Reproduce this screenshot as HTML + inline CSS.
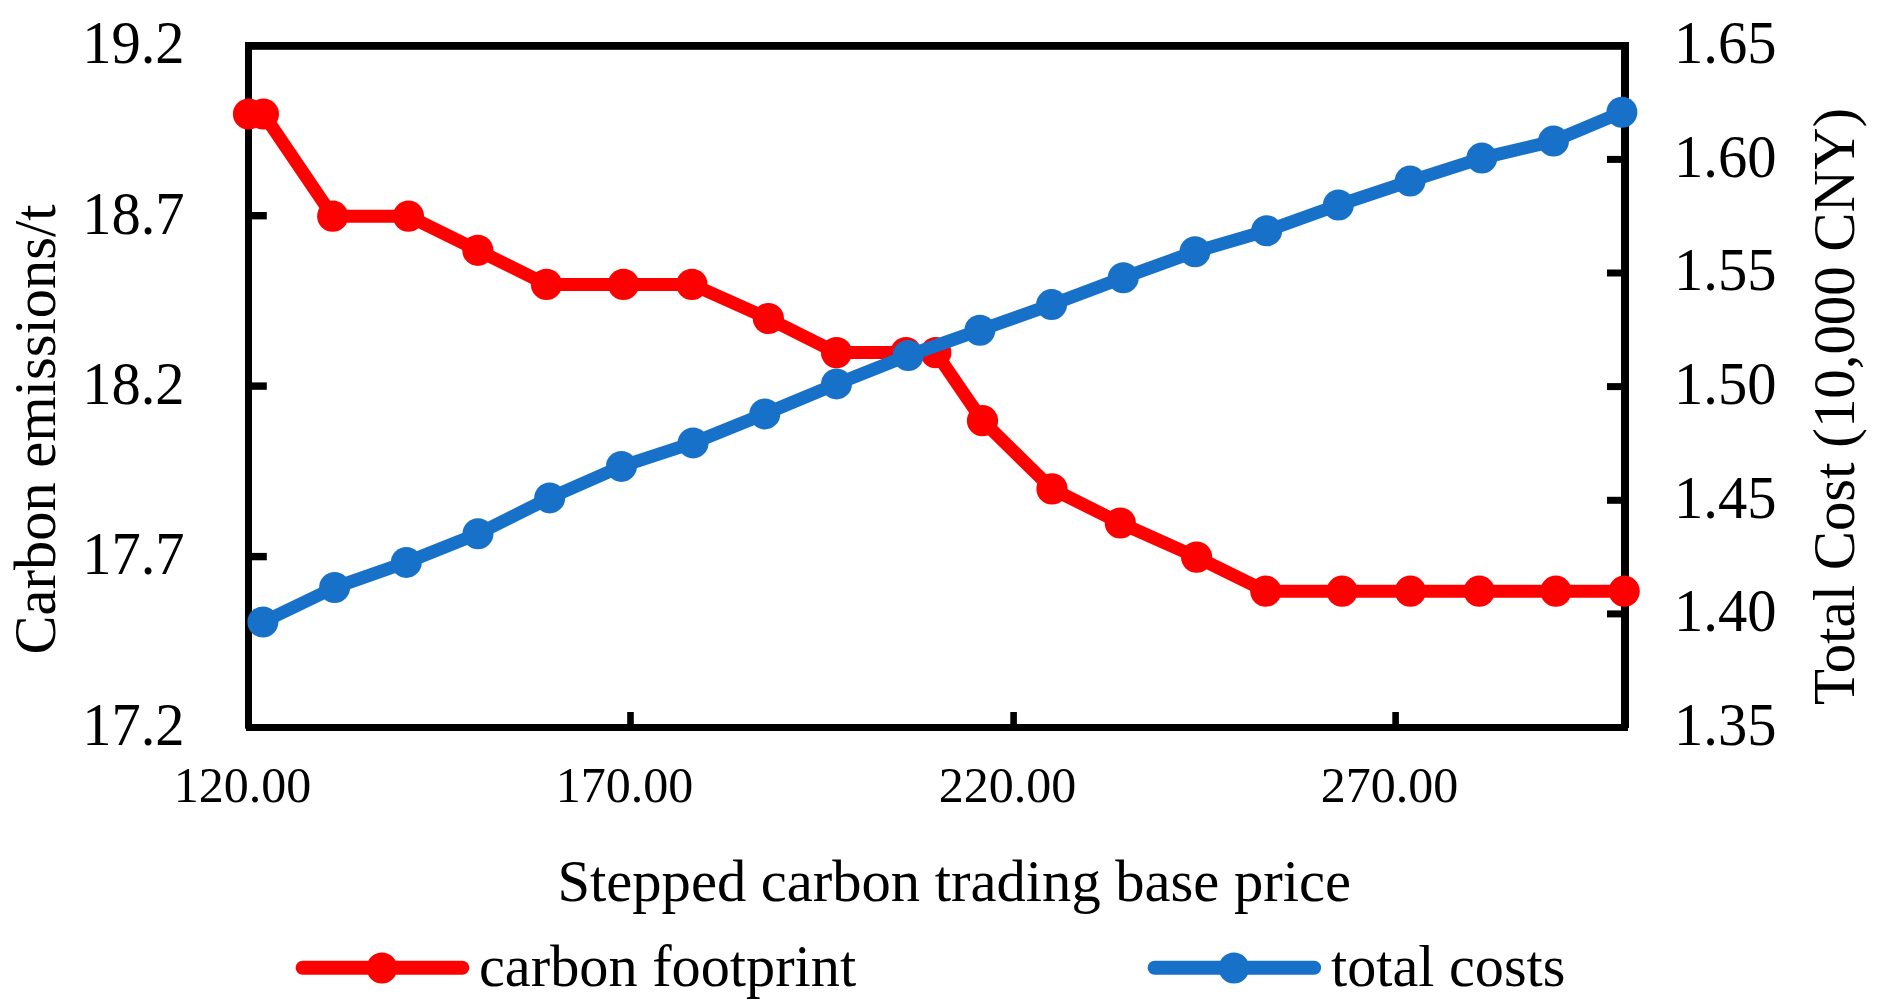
<!DOCTYPE html>
<html><head><meta charset="utf-8"><title>chart</title>
<style>
html,body{margin:0;padding:0;background:#fff;}
svg{display:block;}
text{font-family:"Liberation Serif","Times New Roman",serif;fill:#000;}
</style></head><body>
<svg width="1881" height="1004" viewBox="0 0 1881 1004">
<defs><filter id="soft" x="-5%" y="-5%" width="110%" height="110%"><feGaussianBlur stdDeviation="0.7"/></filter></defs>
<rect width="1881" height="1004" fill="#fff"/>

<g fill="#000">
<rect x="245" y="42" width="7" height="686.7"/>
<rect x="1621" y="42" width="8" height="686"/>
<rect x="245" y="42" width="1384" height="7.6" rx="2.5"/><rect x="250" y="42" width="1374" height="7.6"/>
<rect x="246" y="724" width="1382" height="7"/>
<rect x="250" y="212.0" width="16.8" height="7.4"/>
<rect x="250" y="382.4" width="16.8" height="7.4"/>
<rect x="250" y="552.9" width="16.8" height="7.4"/>
<rect x="1607" y="610.4" width="16" height="7"/>
<rect x="1607" y="496.8" width="16" height="7"/>
<rect x="1607" y="383.1" width="16" height="7"/>
<rect x="1607" y="269.5" width="16" height="7"/>
<rect x="1607" y="155.9" width="16" height="7"/>
<rect x="627.2" y="712" width="6.6" height="14"/>
<rect x="1010.3" y="712" width="6.6" height="14"/>
<rect x="1392.3" y="712" width="6.6" height="14"/>
</g>
<polyline fill="none" stroke="#ff0000" stroke-width="13" stroke-linejoin="round" stroke-linecap="round" points="248.5,114.0 263.4,114.0 332.7,216.2 408.5,216.2 477.8,250.3 546.5,284.4 623.4,284.4 691.9,284.4 768.4,318.5 836.5,352.6 906.0,352.6 935.8,352.6 982.5,420.7 1052.0,488.9 1120.3,523.0 1196.6,557.1 1265.8,591.2 1342.1,591.2 1410.4,591.2 1479.2,591.2 1555.9,591.2 1624.2,591.2"/><g filter="url(#soft)"><circle cx="248.5" cy="114.0" r="15.6" fill="#ff0000"/><circle cx="263.4" cy="114.0" r="15.6" fill="#ff0000"/><circle cx="332.7" cy="216.2" r="15.6" fill="#ff0000"/><circle cx="408.5" cy="216.2" r="15.6" fill="#ff0000"/><circle cx="477.8" cy="250.3" r="15.6" fill="#ff0000"/><circle cx="546.5" cy="284.4" r="15.6" fill="#ff0000"/><circle cx="623.4" cy="284.4" r="15.6" fill="#ff0000"/><circle cx="691.9" cy="284.4" r="15.6" fill="#ff0000"/><circle cx="768.4" cy="318.5" r="15.6" fill="#ff0000"/><circle cx="836.5" cy="352.6" r="15.6" fill="#ff0000"/><circle cx="906.0" cy="352.6" r="15.6" fill="#ff0000"/><circle cx="935.8" cy="352.6" r="15.6" fill="#ff0000"/><circle cx="982.5" cy="420.7" r="15.6" fill="#ff0000"/><circle cx="1052.0" cy="488.9" r="15.6" fill="#ff0000"/><circle cx="1120.3" cy="523.0" r="15.6" fill="#ff0000"/><circle cx="1196.6" cy="557.1" r="15.6" fill="#ff0000"/><circle cx="1265.8" cy="591.2" r="15.6" fill="#ff0000"/><circle cx="1342.1" cy="591.2" r="15.6" fill="#ff0000"/><circle cx="1410.4" cy="591.2" r="15.6" fill="#ff0000"/><circle cx="1479.2" cy="591.2" r="15.6" fill="#ff0000"/><circle cx="1555.9" cy="591.2" r="15.6" fill="#ff0000"/><circle cx="1624.2" cy="591.2" r="15.6" fill="#ff0000"/></g>
<polyline fill="none" stroke="#1871c9" stroke-width="13" stroke-linejoin="round" stroke-linecap="round" points="262.9,622.0 334.6,587.5 406.3,562.4 478.0,533.8 549.7,497.9 621.4,466.4 693.1,442.9 764.8,413.9 836.5,383.9 908.2,355.5 979.9,330.2 1051.6,304.6 1123.3,277.7 1195.0,251.7 1266.7,230.8 1338.4,205.0 1410.1,181.1 1481.8,158.1 1553.5,141.1 1621.9,112.3"/><g><circle cx="262.9" cy="622.0" r="15.5" fill="#1871c9"/><circle cx="334.6" cy="587.5" r="15.5" fill="#1871c9"/><circle cx="406.3" cy="562.4" r="15.5" fill="#1871c9"/><circle cx="478.0" cy="533.8" r="15.5" fill="#1871c9"/><circle cx="549.7" cy="497.9" r="15.5" fill="#1871c9"/><circle cx="621.4" cy="466.4" r="15.5" fill="#1871c9"/><circle cx="693.1" cy="442.9" r="15.5" fill="#1871c9"/><circle cx="764.8" cy="413.9" r="15.5" fill="#1871c9"/><circle cx="836.5" cy="383.9" r="15.5" fill="#1871c9"/><circle cx="908.2" cy="355.5" r="15.5" fill="#1871c9"/><circle cx="979.9" cy="330.2" r="15.5" fill="#1871c9"/><circle cx="1051.6" cy="304.6" r="15.5" fill="#1871c9"/><circle cx="1123.3" cy="277.7" r="15.5" fill="#1871c9"/><circle cx="1195.0" cy="251.7" r="15.5" fill="#1871c9"/><circle cx="1266.7" cy="230.8" r="15.5" fill="#1871c9"/><circle cx="1338.4" cy="205.0" r="15.5" fill="#1871c9"/><circle cx="1410.1" cy="181.1" r="15.5" fill="#1871c9"/><circle cx="1481.8" cy="158.1" r="15.5" fill="#1871c9"/><circle cx="1553.5" cy="141.1" r="15.5" fill="#1871c9"/><circle cx="1621.9" cy="112.3" r="15.5" fill="#1871c9"/></g>
<text transform="translate(184.60,63.20) scale(0.9600,1)" font-size="61" text-anchor="end">19.2</text>
<text transform="translate(184.60,233.62) scale(0.9600,1)" font-size="61" text-anchor="end">18.7</text>
<text transform="translate(184.60,404.05) scale(0.9600,1)" font-size="61" text-anchor="end">18.2</text>
<text transform="translate(184.60,574.48) scale(0.9600,1)" font-size="61" text-anchor="end">17.7</text>
<text transform="translate(184.60,744.90) scale(0.9600,1)" font-size="61" text-anchor="end">17.2</text>
<text transform="translate(1674.00,744.90) scale(0.9600,1)" font-size="61">1.35</text>
<text transform="translate(1674.00,631.28) scale(0.9600,1)" font-size="61">1.40</text>
<text transform="translate(1674.00,517.67) scale(0.9600,1)" font-size="61">1.45</text>
<text transform="translate(1674.00,404.05) scale(0.9600,1)" font-size="61">1.50</text>
<text transform="translate(1674.00,290.43) scale(0.9600,1)" font-size="61">1.55</text>
<text transform="translate(1674.00,176.82) scale(0.9600,1)" font-size="61">1.60</text>
<text transform="translate(1674.00,63.20) scale(0.9600,1)" font-size="61">1.65</text>
<text transform="translate(242.50,801.60) scale(1.0000,1)" font-size="50" text-anchor="middle">120.00</text>
<text transform="translate(624.50,801.60) scale(1.0000,1)" font-size="50" text-anchor="middle">170.00</text>
<text transform="translate(1007.60,801.60) scale(1.0000,1)" font-size="50" text-anchor="middle">220.00</text>
<text transform="translate(1389.60,801.60) scale(1.0000,1)" font-size="50" text-anchor="middle">270.00</text>
<text transform="translate(557.50,900.50) scale(0.9762,1)" font-size="60">Stepped carbon trading base price</text>
<text transform="translate(479.00,985.50) scale(0.9715,1)" font-size="60">carbon footprint</text>
<text transform="translate(1331.00,985.50) scale(0.9700,1)" font-size="60">total costs</text>
<text transform="translate(55.40,654.50) rotate(-90) scale(0.9748,1)" font-size="60">Carbon emissions/t</text>
<text transform="translate(1853.50,705.00) rotate(-90) scale(0.9805,1)" font-size="60">Total Cost (10,000 CNY)</text>
<line x1="302.6" y1="967.7" x2="462.3" y2="967.7" stroke="#ff0000" stroke-width="14" stroke-linecap="round"/><circle cx="381.9" cy="968" r="15.4" fill="#ff0000"/>
<line x1="1154.6" y1="967.7" x2="1314.2" y2="967.7" stroke="#1871c9" stroke-width="14" stroke-linecap="round"/><circle cx="1233.9" cy="968" r="15.4" fill="#1871c9"/>
</svg></body></html>
